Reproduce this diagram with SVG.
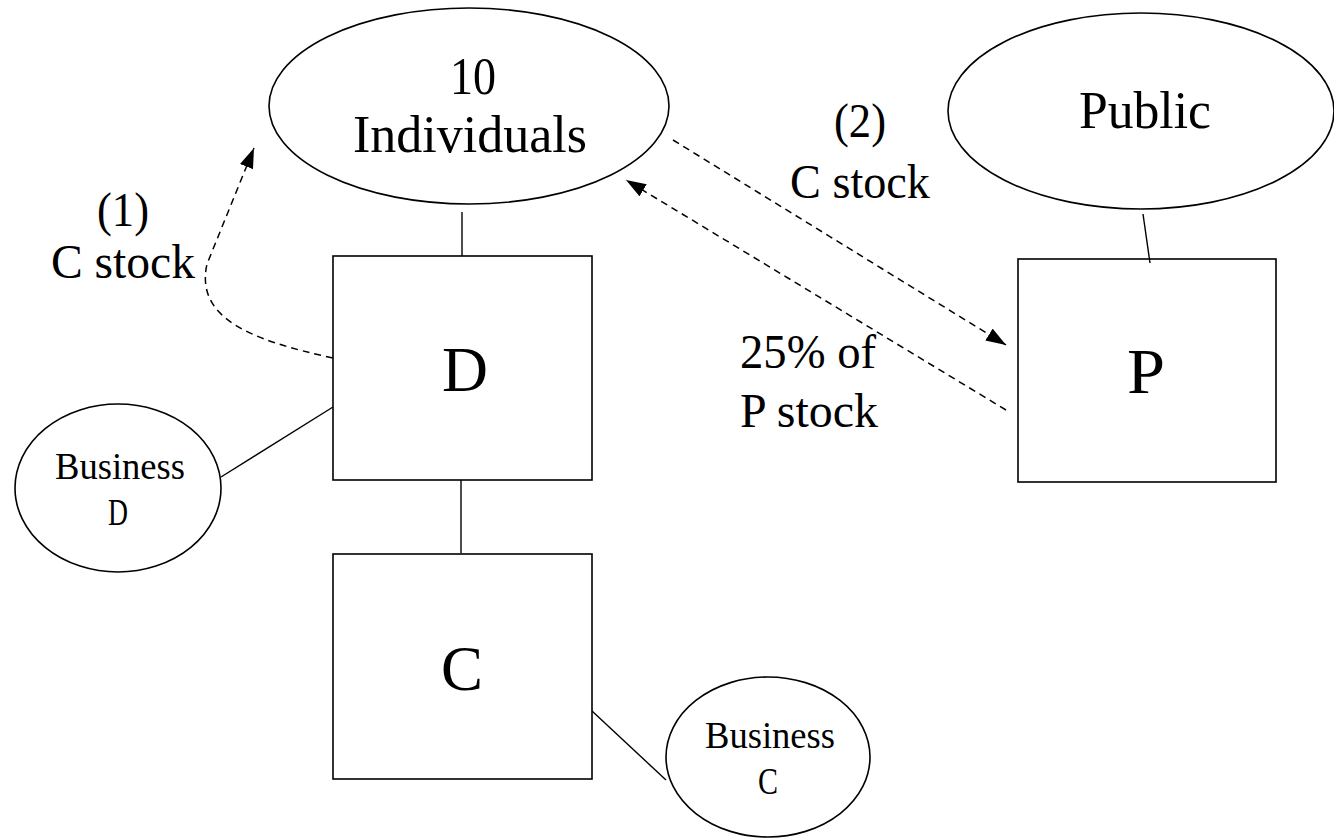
<svg xmlns="http://www.w3.org/2000/svg" width="1334" height="840" viewBox="0 0 1334 840">
<style>
.shape{fill:none;stroke:#000;stroke-width:1.6}
.line{fill:none;stroke:#000;stroke-width:1.4}
.dash{fill:none;stroke:#000;stroke-width:1.5;stroke-dasharray:7 5}
text{font-family:"Liberation Serif","Times New Roman",serif;fill:#000;text-anchor:middle}
.big{font-size:53px}
.lab{font-size:48px}
.huge{font-size:63px}
.small{font-size:37px}
</style>
<defs>
<marker id="ah" viewBox="0 0 20 14" refX="20" refY="7" markerWidth="20" markerHeight="14" markerUnits="userSpaceOnUse" orient="auto">
<path d="M0,0 L20,7 L0,14 Z" fill="#000"/>
</marker>
</defs>
<rect width="1334" height="840" fill="#fff"/>
<g id="connectors">
<line class="line" x1="462" y1="212" x2="462" y2="256"/>
<line class="line" x1="1143" y1="214" x2="1150" y2="263"/>
<line class="line" x1="461" y1="480" x2="461" y2="553"/>
<line class="line" x1="221" y1="477" x2="333" y2="407"/>
<line class="line" x1="592" y1="711" x2="666" y2="780"/>
<path class="dash" d="M333,358 C250,340 195,318 207,264 L254,148" marker-end="url(#ah)"/>
<line class="dash" x1="673" y1="140" x2="1006" y2="345" marker-end="url(#ah)"/>
<line class="dash" x1="1006" y1="410" x2="626" y2="180" marker-end="url(#ah)"/>
</g>
<g id="individuals">
<ellipse class="shape" cx="469" cy="106" rx="200" ry="98"/>
<text class="big" x="473" y="94" textLength="46" lengthAdjust="spacingAndGlyphs">10</text>
<text class="big" x="470" y="152" textLength="234" lengthAdjust="spacingAndGlyphs">Individuals</text>
</g>
<g id="public">
<ellipse class="shape" cx="1141" cy="111" rx="193" ry="98"/>
<text class="big" x="1145" y="128" textLength="132" lengthAdjust="spacingAndGlyphs">Public</text>
</g>
<g id="D">
<rect class="shape" x="333" y="256" width="259" height="224"/>
<text class="huge" x="465" y="391" textLength="46" lengthAdjust="spacingAndGlyphs">D</text>
</g>
<g id="P">
<rect class="shape" x="1018" y="259" width="258" height="223"/>
<text class="huge" x="1146" y="393" textLength="38" lengthAdjust="spacingAndGlyphs">P</text>
</g>
<g id="C">
<rect class="shape" x="333" y="554" width="259" height="225"/>
<text class="huge" x="462" y="690" textLength="42" lengthAdjust="spacingAndGlyphs">C</text>
</g>
<g id="businessD">
<ellipse class="shape" cx="118" cy="488" rx="103" ry="84"/>
<text class="small" x="120" y="479" textLength="130" lengthAdjust="spacingAndGlyphs">Business</text>
<text class="small" x="118" y="525" textLength="20" lengthAdjust="spacingAndGlyphs">D</text>
</g>
<g id="businessC">
<ellipse class="shape" cx="768" cy="757" rx="102" ry="80"/>
<text class="small" x="770" y="748" textLength="130" lengthAdjust="spacingAndGlyphs">Business</text>
<text class="small" x="768" y="794" textLength="20" lengthAdjust="spacingAndGlyphs">C</text>
</g>
<g id="labels">
<text class="lab" x="123" y="226" textLength="52" lengthAdjust="spacingAndGlyphs">(1)</text>
<text class="lab" x="123" y="278" textLength="144" lengthAdjust="spacingAndGlyphs">C stock</text>
<text class="lab" x="860" y="137" textLength="52" lengthAdjust="spacingAndGlyphs">(2)</text>
<text class="lab" x="860" y="198" textLength="140" lengthAdjust="spacingAndGlyphs">C stock</text>
<text class="lab" x="808" y="368" textLength="136" lengthAdjust="spacingAndGlyphs">25% of</text>
<text class="lab" x="809" y="427" textLength="138" lengthAdjust="spacingAndGlyphs">P stock</text>
</g>
</svg>
